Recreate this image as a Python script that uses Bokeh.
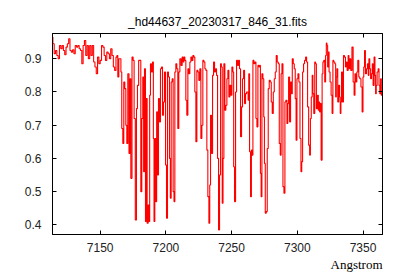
from bokeh.plotting import figure
from bokeh.models import Range1d, FixedTicker, LinearAxis, Title
from bokeh.embed import file_html
from bokeh.resources import INLINE

title_text = "_hd44637_20230317_846_31.fits"
x_label = "Angstrom"
x_ticks = [7150, 7200, 7250, 7300, 7350]
y_ticks = [0.4, 0.5, 0.6, 0.7, 0.8, 0.9]

# continuum region 7113.5 - 7162.5
wave_a = [7113.5 + k for k in range(50)]
flux_a = [0.965, 0.945, 0.915, 0.925, 0.91, 0.90, 0.94, 0.93, 0.94, 0.925,
          0.912, 0.935, 0.945, 0.96, 0.925, 0.92, 0.927, 0.915, 0.94, 0.935,
          0.94, 0.93, 0.925, 0.885, 0.94, 0.955, 0.91, 0.94, 0.90, 0.94,
          0.91, 0.94, 0.89, 0.875, 0.855, 0.905, 0.885, 0.895, 0.94, 0.935,
          0.91, 0.895, 0.92, 0.915, 0.90, 0.93, 0.91, 0.875, 0.865, 0.905]

wave_b = [7163.0, 7163.8, 7164.5, 7165.5, 7166.0, 7166.8, 7167.6, 7168.3, 7169.1, 7169.9,
          7170.6, 7171.4, 7172.4, 7172.9, 7173.7, 7174.7, 7175.4, 7176.2, 7177.2, 7178.0,
          7178.7, 7179.8, 7180.5, 7181.3, 7182.0, 7182.8, 7183.3, 7184.1, 7184.8, 7185.3,
          7186.1, 7186.9, 7187.4, 7187.9, 7188.6, 7189.4, 7190.2, 7190.7, 7191.2, 7191.9,
          7192.7, 7193.2, 7194.0, 7194.7, 7195.5, 7196.2, 7197.0, 7197.8, 7198.5, 7199.3,
          7200.1, 7200.8, 7201.6, 7202.3, 7203.1, 7203.6, 7204.4, 7205.1, 7205.9, 7206.4,
          7207.2, 7207.9, 7208.7, 7209.4, 7210.2, 7211.0, 7212.0]
flux_b = [0.91, 0.845, 0.90, 0.90, 0.86, 0.69, 0.645, 0.83, 0.81, 0.70,
          0.645, 0.855, 0.615, 0.84, 0.54, 0.905, 0.895, 0.72, 0.415, 0.75,
          0.82, 0.895, 0.895, 0.50, 0.72, 0.845, 0.56, 0.87, 0.41, 0.78,
          0.405, 0.46, 0.41, 0.79, 0.885, 0.86, 0.89, 0.66, 0.41, 0.66,
          0.47, 0.74, 0.55, 0.78, 0.71, 0.87, 0.875, 0.73, 0.77, 0.86,
          0.58, 0.42, 0.86, 0.845, 0.60, 0.48, 0.83, 0.84, 0.50, 0.47,
          0.86, 0.885, 0.87, 0.69, 0.86, 0.90, 0.88]

wave_c = [7212.7, 7213.3, 7214.0, 7214.8, 7215.5, 7216.3, 7217.1, 7217.8, 7218.6, 7219.4,
          7220.1, 7220.9, 7221.6, 7222.4, 7223.2, 7223.9, 7224.7, 7225.4, 7226.2, 7227.0,
          7227.7, 7228.5, 7229.3, 7230.0, 7230.8, 7231.5, 7232.3, 7233.1, 7233.6, 7234.3,
          7235.1, 7235.9, 7236.6, 7237.4, 7238.1, 7238.9, 7239.7, 7240.4, 7241.2, 7241.9,
          7242.5, 7243.2, 7243.7, 7244.5, 7245.2, 7246.0, 7246.8, 7247.5, 7248.3, 7249.0,
          7249.8, 7250.6, 7251.3, 7251.8, 7252.6, 7253.4, 7254.1, 7254.9, 7255.6, 7256.4,
          7257.2, 7257.9, 7258.7, 7259.5, 7260.2, 7261.0, 7261.7]
flux_c = [0.905, 0.89, 0.905, 0.895, 0.775, 0.73, 0.87, 0.855, 0.89, 0.905,
          0.895, 0.91, 0.905, 0.80, 0.65, 0.865, 0.86, 0.835, 0.87, 0.66,
          0.70, 0.895, 0.89, 0.87, 0.865, 0.625, 0.485, 0.405, 0.52, 0.73,
          0.615, 0.85, 0.89, 0.86, 0.87, 0.85, 0.60, 0.385, 0.55, 0.885,
          0.875, 0.465, 0.60, 0.885, 0.745, 0.76, 0.84, 0.865, 0.785, 0.82,
          0.79, 0.875, 0.86, 0.575, 0.47, 0.80, 0.895, 0.88, 0.895, 0.87,
          0.665, 0.755, 0.84, 0.865, 0.765, 0.795, 0.80]

wave_d = [7262.3, 7262.8, 7263.3, 7264.0, 7264.8, 7265.3, 7265.8, 7266.6, 7267.3, 7268.1,
          7268.9, 7269.6, 7270.4, 7271.1, 7271.6, 7272.2, 7272.7, 7273.4, 7274.2, 7274.7,
          7275.2, 7276.0, 7276.7, 7277.5, 7278.2, 7279.0, 7279.8, 7280.5, 7281.3, 7282.1,
          7282.8, 7283.6, 7284.3, 7285.1, 7285.9, 7286.6, 7287.4, 7287.9, 7288.7, 7289.4,
          7290.2, 7290.9, 7291.7, 7292.5, 7293.0, 7293.7, 7294.5, 7295.2, 7295.8, 7296.5,
          7297.3, 7298.0, 7298.8, 7299.3, 7300.1, 7300.8, 7301.6, 7302.4, 7303.1, 7303.6,
          7304.4, 7305.1, 7305.9, 7306.7, 7307.4, 7308.2, 7309.0, 7309.7, 7310.2, 7311.0,
          7311.6]
flux_d = [0.80, 0.775, 0.855, 0.62, 0.485, 0.625, 0.61, 0.895, 0.885, 0.89,
          0.72, 0.695, 0.88, 0.875, 0.88, 0.555, 0.485, 0.855, 0.84, 0.725,
          0.585, 0.435, 0.44, 0.63, 0.81, 0.835, 0.83, 0.77, 0.735, 0.80,
          0.84, 0.86, 0.91, 0.89, 0.885, 0.645, 0.61, 0.855, 0.885, 0.515,
          0.495, 0.77, 0.775, 0.705, 0.765, 0.845, 0.71, 0.83, 0.795, 0.90,
          0.885, 0.87, 0.78, 0.655, 0.84, 0.855, 0.83, 0.66, 0.56, 0.59,
          0.86, 0.885, 0.895, 0.905, 0.89, 0.755, 0.64, 0.61, 0.72, 0.785,
          0.85]

wave_e = [7312.1, 7312.9, 7313.6, 7314.1, 7314.9, 7315.7, 7316.2, 7316.7, 7317.2, 7317.7,
          7318.5, 7319.2, 7319.7, 7320.5, 7321.2, 7321.8, 7322.3, 7322.8, 7323.3, 7323.8,
          7324.5, 7325.3, 7326.1, 7326.8, 7327.3, 7328.1, 7328.9, 7329.4, 7329.9, 7330.4,
          7331.1, 7331.9, 7332.4, 7332.9, 7333.4, 7333.9, 7334.7, 7335.5, 7336.2, 7337.0,
          7337.5, 7338.3, 7339.0, 7339.5, 7340.3, 7341.0, 7342.1, 7342.8, 7343.6, 7344.1,
          7344.9, 7345.6, 7346.4, 7347.1, 7347.9, 7348.9, 7349.7, 7350.2, 7350.9, 7351.4,
          7352.2, 7353.0, 7353.7, 7354.2, 7354.7, 7355.5, 7356.0, 7356.8, 7357.3, 7358.0,
          7358.8, 7359.3, 7359.8, 7360.3, 7361.1, 7361.9, 7362.4, 7363.1, 7363.6, 7364.2,
          7364.8]
flux_e = [0.795, 0.735, 0.89, 0.885, 0.75, 0.79, 0.745, 0.77, 0.74, 0.765,
          0.595, 0.855, 0.89, 0.895, 0.83, 0.91, 0.947, 0.94, 0.875, 0.92,
          0.86, 0.83, 0.79, 0.735, 0.895, 0.89, 0.885, 0.785, 0.845, 0.87,
          0.77, 0.82, 0.785, 0.735, 0.77, 0.86, 0.77, 0.91, 0.905, 0.875,
          0.89, 0.865, 0.91, 0.87, 0.90, 0.865, 0.935, 0.83, 0.79, 0.855,
          0.83, 0.86, 0.895, 0.845, 0.84, 0.815, 0.74, 0.845, 0.875, 0.925,
          0.855, 0.87, 0.885, 0.85, 0.90, 0.87, 0.84, 0.855, 0.885, 0.82,
          0.905, 0.85, 0.795, 0.82, 0.86, 0.87, 0.82, 0.795, 0.84, 0.79,
          0.80]

wavelength = wave_a + wave_b + wave_c + wave_d + wave_e
flux = flux_a + flux_b + flux_c + flux_d + flux_e

p = figure(width=392, height=272, output_backend="svg", toolbar_location=None,
           x_range=Range1d(7113.7, 7364.8), y_range=Range1d(0.371, 0.976),
           min_border_left=52, min_border_right=10, min_border_top=33,
           min_border_bottom=38)
p.title.text = title_text
p.title.align = "center"
p.title.offset = -3
p.title.text_font = "Liberation Sans"
p.title.text_font_size = "12px"
p.title.text_font_style = "normal"
p.title.text_color = "black"
p.title.standoff = 9
p.grid.visible = False
p.outline_line_color = "black"
p.outline_line_width = 1
p.background_fill_color = "white"
p.border_fill_color = "white"

p.step(wavelength, flux, mode="center", line_color="#ff0000", line_width=1.1)

top_axis = LinearAxis()
right_axis = LinearAxis()
p.add_layout(top_axis, "above")
p.add_layout(right_axis, "right")

for ax in p.xaxis:
    ax.ticker = FixedTicker(ticks=x_ticks)
for ax in p.yaxis:
    ax.ticker = FixedTicker(ticks=y_ticks)

for ax in p.axis:
    ax.major_tick_in = 4
    ax.major_tick_out = 0
    ax.minor_tick_in = 0
    ax.minor_tick_out = 0
    ax.axis_line_color = "black"
    ax.major_tick_line_color = "black"
    ax.major_label_text_font = "Liberation Sans"
    ax.major_label_text_font_size = "12px"
    ax.major_label_text_color = "#222222"

for ax in (top_axis, right_axis):
    ax.major_label_text_color = None
    ax.major_label_text_alpha = 0
    ax.major_label_standoff = 0

p.below[0].major_label_standoff = 8
p.left[0].major_label_standoff = 11

p.add_layout(Title(text=x_label, align="right", text_font="Liberation Serif",
                   text_font_size="13px", text_font_style="normal",
                   text_color="black", standoff=0), "below")

open("out.html", "w").write(file_html(p, INLINE))
